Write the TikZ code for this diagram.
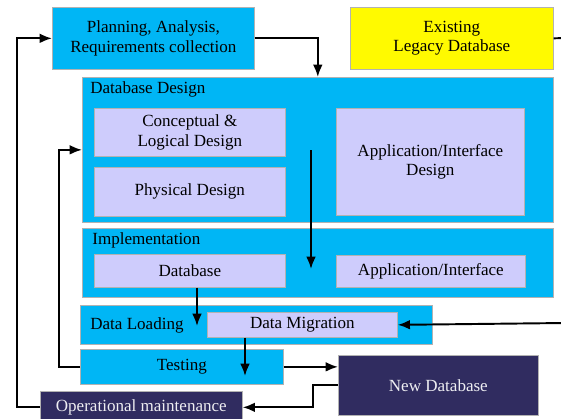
\documentclass[tikz,border=0pt]{standalone}
\usepackage{fontspec}
\setmainfont{Liberation Serif}
\usetikzlibrary{arrows.meta}
\definecolor{dbcyan}{RGB}{0,182,245}
\definecolor{dblav}{RGB}{206,204,252}
\definecolor{dbnavy}{RGB}{48,44,96}
\definecolor{dbyellow}{RGB}{255,250,0}
\begin{document}
\begin{tikzpicture}[x=0.02cm,y=-0.02cm,font=\fontsize{9.7}{11}\selectfont,
  outer/.style={draw=gray!60,line width=0.4pt,fill=dbcyan,anchor=north west,inner sep=0pt,align=center},
  inner/.style={draw=gray!60,line width=0.4pt,fill=dblav,anchor=north west,inner sep=0pt,align=center},
  flow/.style={line width=1.1pt,-{Latex[length=7pt,width=5.5pt]}},
  wire/.style={line width=1.1pt}]
\useasboundingbox (0,0) rectangle (561,419);
% top row
\node[outer,minimum width=4.04cm,minimum height=1.24cm] (plan) at (52,7) {Planning, Analysis,\\Requirements collection};
\node[outer,fill=dbyellow,minimum width=4.06cm,minimum height=1.24cm] (legacy) at (350,7) {Existing\\Legacy Database};
% database design
\node[outer,minimum width=9.42cm,minimum height=2.9cm] (dbd) at (82,77) {};
\node[anchor=west,inner sep=0pt] (dbdlbl) at (90,89) {Database Design};
\node[inner,minimum width=3.82cm,minimum height=0.96cm] (concep) at (94,108) {Conceptual \&\\Logical Design};
\node[inner,minimum width=3.82cm,minimum height=0.98cm] (phys) at (94,167) {Physical Design};
\node[inner,minimum width=3.76cm,minimum height=2.14cm] (appd) at (336,108) {Application/Interface\\Design};
% implementation
\node[outer,minimum width=9.42cm,minimum height=1.38cm] (impl) at (82,228) {};
\node[anchor=west,inner sep=0pt] (impllbl) at (92,240) {Implementation};
\node[inner,minimum width=3.82cm,minimum height=0.66cm] (dbase) at (94,254) {Database};
\node[inner,minimum width=3.78cm,minimum height=0.64cm] (appi) at (336,255) {Application/Interface};
% loading, testing
\node[outer,minimum width=7.04cm,minimum height=0.78cm] (load) at (80,305) {};
\node[anchor=west,inner sep=0pt] (loadlbl) at (90,325) {Data Loading};
\node[inner,minimum width=3.8cm,minimum height=0.5cm] (migr) at (207,312) {Data Migration};
\node[outer,minimum width=4.06cm,minimum height=0.7cm] (test) at (80,349) {Testing};
\node[outer,fill=dbnavy,text=white!92!dbnavy,minimum width=4.0cm,minimum height=1.2cm] (newdb) at (338,355) {New Database};
\node[outer,fill=dbnavy,text=white!92!dbnavy,minimum width=4.04cm,minimum height=0.64cm] (opm) at (40,391) {Operational maintenance};
% free ends
\coordinate (rt1) at (565,38);
\coordinate (rt2) at (565,323);
\coordinate (d1) at (311,150);
\coordinate (d2) at (311,269);
\coordinate (a1) at (197,326);
\coordinate (a2) at (245,376);
% connectors
\draw[flow] (plan.east) -| (dbd.north);
\draw[wire] (legacy.east) -- (rt1);
\draw[flow] (rt2) -- (migr.east);
\draw[flow] (d1) -- (d2);
\draw[flow] (a1 |- dbase.south) -- (a1);
\draw[flow] (a2 |- migr.south) -- (a2);
\draw[flow] (test.east) -- (test.east -| newdb.west);
\draw[flow] (newdb.west) -- ++(-25,0) |- (opm.east);
\draw[flow] (opm.west) -- ++(-23,0) |- (plan.west);
\draw[flow] (test.west) -- ++(-21,0) |- (dbd.west);
\end{tikzpicture}
\end{document}
